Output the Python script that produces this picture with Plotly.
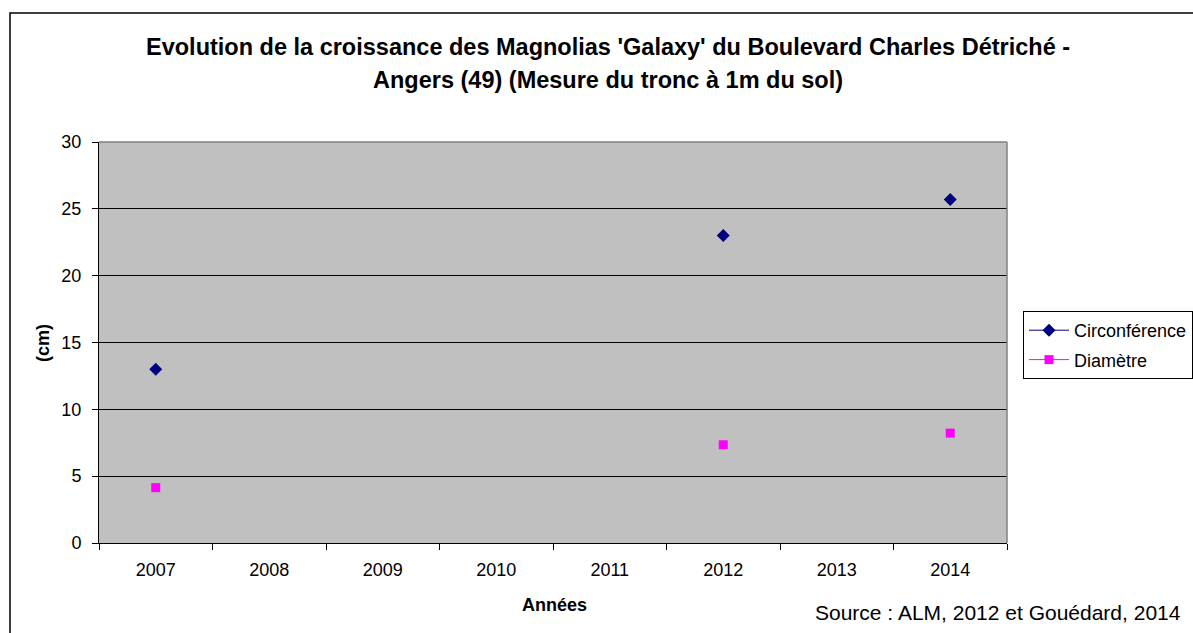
import plotly.graph_objs as go

# Données
annees = ['2007', '2008', '2009', '2010', '2011', '2012', '2013', '2014']
circonference = [13.0, None, None, None, None, 23.0, None, 25.7]
diametre = [4.14, None, None, None, None, 7.35, None, 8.22]

W, H = 1193, 633
L, R, T, B = 99, 1007, 142, 543   # bords de la zone de tracé, en pixels


def px(x):
    return (x - L) / (R - L)


def py(y):
    return (B - y) / (B - T)


FONT = 'Arial, "Liberation Sans", sans-serif'

fig = go.Figure()
fig.add_trace(go.Scatter(
    x=annees, y=circonference, name='Circonférence', legendgroup='c',
    mode='lines+markers', connectgaps=False,
    line=dict(color='#000080', width=1),
    marker=dict(symbol='diamond', size=10, color='#000080'),
))
fig.add_trace(go.Scatter(
    x=annees, y=diametre, name='Diamètre', legendgroup='d',
    mode='lines+markers', connectgaps=False,
    line=dict(color='#FF00FF', width=1),
    marker=dict(symbol='square', size=9, color='#FF00FF'),
))

fig.update_layout(
    width=W, height=H,
    margin=dict(l=L, r=W - R, t=T, b=H - B, autoexpand=False),
    paper_bgcolor='white',
    plot_bgcolor='#C0C0C0',
    font=dict(family=FONT, size=18, color='black'),
    showlegend=True,
    legend=dict(
        x=px(1023), y=py(311), xanchor='left', yanchor='top',
        bordercolor='black', borderwidth=1, bgcolor='white',
        font=dict(size=18), tracegroupgap=3, itemwidth=40,
        traceorder='grouped',
    ),
    xaxis=dict(
        type='category', range=[-0.5, 7.5],
        showgrid=False, showline=True, linecolor='black', linewidth=1,
        ticks='outside', tickson='boundaries', ticklen=6, tickcolor='black',
        tickfont=dict(size=18), ticklabelstandoff=10,
    ),
    yaxis=dict(
        range=[0, 30], dtick=5,
        showgrid=True, gridcolor='black', gridwidth=1,
        zeroline=False,
        showline=True, linecolor='black', linewidth=1,
        ticks='outside', ticklen=6, tickcolor='black',
        tickfont=dict(size=18), ticklabelstandoff=7,
    ),
    annotations=[
        dict(
            text="<b>Evolution de la croissance des Magnolias 'Galaxy' du Boulevard Charles Détriché -</b>",
            xref='paper', yref='paper', x=px(608), y=py(47),
            xanchor='center', yanchor='middle', showarrow=False,
            font=dict(size=23.5),
        ),
        dict(
            text="<b>Angers (49) (Mesure du tronc à 1m du sol)</b>",
            xref='paper', yref='paper', x=px(608), y=py(80),
            xanchor='center', yanchor='middle', showarrow=False,
            font=dict(size=23.5),
        ),
        dict(
            text='<b>Années</b>',
            xref='paper', yref='paper', x=px(554), y=py(605),
            xanchor='center', yanchor='middle', showarrow=False,
            font=dict(size=18),
        ),
        dict(
            text='<b>(cm)</b>', textangle=-90,
            xref='paper', yref='paper', x=px(43), y=py(343),
            xanchor='center', yanchor='middle', showarrow=False,
            font=dict(size=18),
        ),
        dict(
            text='Source : ALM, 2012 et Gouédard, 2014',
            xref='paper', yref='paper', x=px(1183), y=py(612),
            xanchor='right', yanchor='middle', showarrow=False,
            font=dict(size=21),
        ),
    ],
    shapes=[
        # cadre extérieur du graphique
        dict(type='rect', xref='paper', yref='paper',
             x0=px(10), y0=py(700), x1=px(1250), y1=py(13),
             line=dict(color='black', width=1.5), layer='above'),
        # bords gris haut et droit de la zone de tracé
        dict(type='line', xref='paper', yref='paper', x0=0, x1=1, y0=1, y1=1,
             line=dict(color='#808080', width=1.5), layer='above'),
        dict(type='line', xref='paper', yref='paper', x0=1, x1=1, y0=0, y1=1,
             line=dict(color='#808080', width=1.5), layer='above'),
    ],
)

fig.write_html("out.html", config={'displayModeBar': False},
               post_script="document.body.style.margin='0';")
